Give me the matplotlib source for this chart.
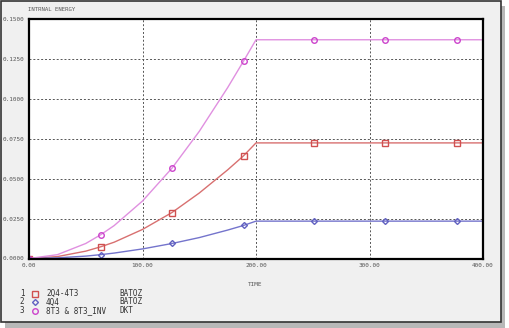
import matplotlib.pyplot as plt
from matplotlib.patches import Rectangle

# data
t = [0, 25, 50, 63, 75, 100, 126, 150, 175, 189, 200, 251, 314, 377, 400]
red_2q4 = [0, 0.0012, 0.0046, 0.0073, 0.0102, 0.0182, 0.0288, 0.0410, 0.0555, 0.0643,
           0.0724, 0.0724, 0.0724, 0.0724, 0.0724]
blue_4q4 = [0, 0.0004, 0.0015, 0.0024, 0.0034, 0.0060, 0.0094, 0.0131, 0.0178, 0.0207,
            0.0234, 0.0234, 0.0234, 0.0234, 0.0234]
mag_8t3 = [0, 0.0024, 0.0094, 0.0148, 0.0206, 0.0360, 0.0566, 0.0796, 0.1070, 0.1236,
           0.1370, 0.1370, 0.1370, 0.1370, 0.1370]
mark_idx = [0, 3, 6, 9, 11, 12, 13]

x_ticks = [0, 100, 200, 300, 400]
y_ticks = [0, 0.025, 0.05, 0.075, 0.1, 0.125, 0.15]

legend_ids = ["1", "2", "3"]
legend_names = ["2Q4-4T3", "4Q4", "8T3 & 8T3_INV"]
legend_elems = ["BATOZ", "BATOZ", "DKT"]

txt = "#555555"
font = "DejaVu Sans Mono"

fig = plt.figure(figsize=(5.09, 3.28), dpi=100)
fig.patch.set_facecolor("white")
W, H = 509, 328

# window shadow + frame
fig.patches.append(Rectangle((5 / W, 0), 500 / W, 322 / H, transform=fig.transFigure,
                             facecolor="#b8b8b8", edgecolor="none", zorder=0))
fig.patches.append(Rectangle((1 / W, 6 / H), 500 / W, 321 / H, transform=fig.transFigure,
                             facecolor="#f0f0f0", edgecolor="#333333", lw=1.2, zorder=1))

ax = fig.add_axes([29 / W, 69.5 / H, 454 / W, 239.5 / H])
ax.set_zorder(5)
ax.set_facecolor("white")

ax.plot(t, red_2q4, color="#d87070", lw=1.0, marker="s", markersize=4,
        markerfacecolor="none", markeredgecolor="#d05050", markevery=mark_idx)
ax.plot(t, blue_4q4, color="#7474cc", lw=1.0, marker="D", markersize=3,
        markerfacecolor="none", markeredgecolor="#6060c0", markevery=mark_idx)
ax.plot(t, mag_8t3, color="#e090e0", lw=1.0, marker="o", markersize=4,
        markerfacecolor="none", markeredgecolor="#cc44cc", markevery=mark_idx)

ax.set_xlim(0, 400)
ax.set_ylim(0, 0.15)
ax.set_xticks(x_ticks)
ax.set_yticks(y_ticks)
ax.set_xticklabels([f"{v:.2f}" for v in x_ticks], fontsize=4.3, color=txt, family=font)
ax.set_yticklabels([f"{v:.4f}" for v in y_ticks], fontsize=4.3, color=txt, family=font)
ax.tick_params(length=0, pad=3)
ax.grid(True, color="#555555", ls=(0, (2, 2)), lw=0.7)
for s in ax.spines.values():
    s.set_linewidth(1.6)
    s.set_color("black")

fig.text(28 / W, 1 - 9.5 / H, "INTRNAL ENERGY", fontsize=4.1, color=txt, family=font,
         va="center", zorder=6)
fig.text(255 / W, 1 - 284 / H, "TIME", fontsize=4.3, color=txt, family=font,
         va="center", ha="center", zorder=6)

markers = [("s", "#d05050", 4), ("D", "#6060c0", 3), ("o", "#cc44cc", 4)]
rows_y = [293.5, 302, 310.5]
for i in range(3):
    yy = 1 - rows_y[i] / H
    fig.text(22 / W, yy, legend_ids[i], fontsize=5.5, color="#333333", family=font,
             va="center", ha="center", zorder=6)
    fig.lines.append(plt.Line2D([35 / W], [yy], transform=fig.transFigure,
                                marker=markers[i][0], markersize=markers[i][2],
                                markerfacecolor="none", markeredgecolor=markers[i][1],
                                zorder=6))
    fig.text(46 / W, yy, legend_names[i], fontsize=5.5, color="#333333", family=font,
             va="center", zorder=6)
    fig.text(119 / W, yy, legend_elems[i], fontsize=5.5, color="#333333", family=font,
             va="center", zorder=6)

plt.savefig("out.png", dpi=100)
